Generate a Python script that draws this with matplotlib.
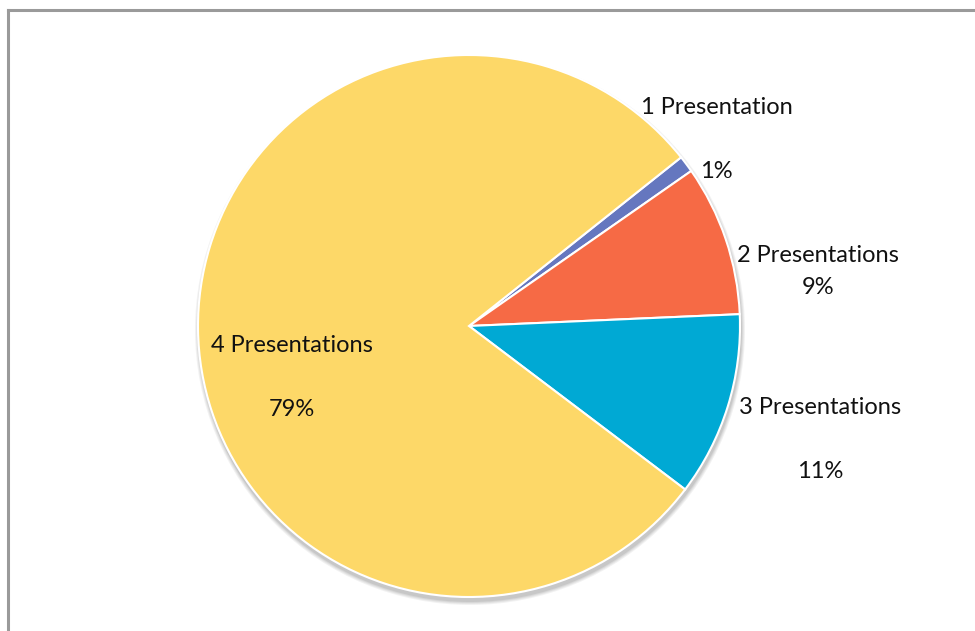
import matplotlib.pyplot as plt
from matplotlib.patches import Circle
from matplotlib.lines import Line2D

# Share of participants by number of presentations
labels = ["1 Presentation", "2 Presentations", "3 Presentations", "4 Presentations"]
shares = [1, 9, 11, 79]
colors = ["#6577BF", "#F66A45", "#00A9D4", "#FDD868"]

plt.rcParams['font.family'] = ['Lato', 'DejaVu Sans']

fig = plt.figure(figsize=(9.75, 6.31), dpi=100)
ax = fig.add_axes([0, 0, 1, 1])
ax.set_xlim(0, 975)
ax.set_ylim(631, 0)
ax.axis('off')

# chart frame (only left and top edges visible)
ax.add_line(Line2D([8, 8], [631, 10], color="#9a9a9a", lw=2.2))
ax.add_line(Line2D([8, 975], [10, 10], color="#9a9a9a", lw=2.2))

cx, cy, r = 469, 326, 271

# soft shadow under the pie
for i, a in enumerate([0.05, 0.05, 0.06, 0.07]):
    ax.add_patch(Circle((cx + 1, cy + 4), r + 4 - i, color="#000000", alpha=a, lw=0, zorder=1))

pax = fig.add_axes([(cx - r) / 975, 1 - (cy + r) / 631, 2 * r / 975, 2 * r / 631])
wedges, _ = pax.pie(shares, colors=colors, startangle=38.5, counterclock=False,
                    wedgeprops=dict(edgecolor="white", linewidth=1.5))
pax.set_aspect('auto')
pax.set_xlim(-1, 1)
pax.set_ylim(-1, 1)
pax.axis('off')

# overlay axes for the labels, above the pie
tax = fig.add_axes([0, 0, 1, 1])
tax.set_xlim(0, 975)
tax.set_ylim(631, 0)
tax.axis('off')

# label positions for category name and percentage
name_pos = [(717, 107), (818, 255), (820, 408), (292, 345)]
pct_pos = [(716, 172), (818, 287), (820, 471), (292, 410)]
for lab, s, (nx, ny), (px, py) in zip(labels, shares, name_pos, pct_pos):
    tax.text(nx, ny, lab, ha="center", va="center", fontsize=17, color="#111111")
    tax.text(px, py, f"{s}%", ha="center", va="center", fontsize=17, color="#111111")

fig.savefig("out.png", dpi=100)
